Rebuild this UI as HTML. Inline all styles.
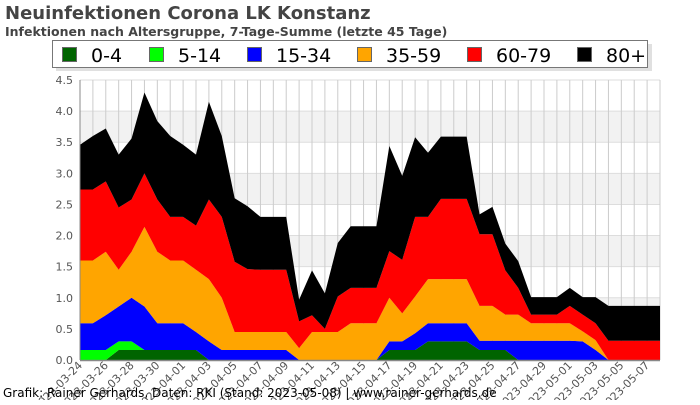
<!DOCTYPE html>
<html><head><meta charset="utf-8"><style>
body{margin:0;background:#fff;}
svg text{font-family:"DejaVu Sans","Liberation Sans",sans-serif;}
</style></head><body>
<svg id="chart" width="700" height="400" xmlns="http://www.w3.org/2000/svg">
<text x="5" y="19" font-size="18" font-weight="bold" fill="#444">Neuinfektionen Corona LK Konstanz</text>
<text x="5" y="36" font-size="12.5" font-weight="bold" fill="#444">Infektionen nach Altersgruppe, 7-Tage-Summe (letzte 45 Tage)</text>
<g id="bands"></g>
<g id="grid"></g>
<g id="areas"></g>
<g id="yaxis"></g>
<g id="xaxis"></g>
<g>
<rect x="56" y="44" width="596" height="27" fill="#ccc" opacity="0.6"/>
<rect x="52.5" y="40.5" width="595" height="27" fill="#fff" stroke="#777"/>
<g id="legend-items"></g>
</g>
<text x="3" y="397" font-size="12" fill="#000">Grafik: Rainer Gerhards, Daten: RKI (Stand: 2023-05-08) | www.rainer-gerhards.de</text>
</svg>
<script>
const days = ["03-24","03-25","03-26","03-27","03-28","03-29","03-30","03-31","04-01","04-02","04-03","04-04","04-05","04-06","04-07","04-08","04-09","04-10","04-11","04-12","04-13","04-14","04-15","04-16","04-17","04-18","04-19","04-20","04-21","04-22","04-23","04-24","04-25","04-26","04-27","04-28","04-29","04-30","05-01","05-02","05-03","05-04","05-05","05-06","05-07","05-08"];
const seriesNames = ["0-4","5-14","15-34","35-59","60-79","80+"];
const seriesColors = ["#006400","#00ff00","#0000ff","#ffa500","#ff0000","#000000"];
const age0_4 = [0,0,0,.16,.16,.16,.16,.16,.16,.16,0,0,0,0,0,0,0,0,0,0,0,0,0,0,.16,.16,.16,.3,.3,.3,.3,.16,.16,.16,0,0,0,0,0,0,0,0,0,0,0,0];
const age5_14 = [.16,.16,.16,.14,.14,0,0,0,0,0,0,0,0,0,0,0,0,0,0,0,0,0,0,0,0,0,0,0,0,0,0,0,0,0,0,0,0,0,0,0,0,0,0,0,0,0];
const age15_34 = [.43,.43,.56,.56,.7,.7,.43,.43,.43,.29,.3,.16,.16,.16,.16,.16,.16,0,0,0,0,0,0,0,.14,.14,.27,.29,.29,.29,.29,.15,.15,.15,.31,.31,.31,.31,.31,.3,.16,0,0,0,0,0];
const age35_59 = [1.01,1.01,1.02,.59,.74,1.28,1.15,1.01,1.01,1.0,1.0,.84,.29,.29,.29,.29,.29,.19,.45,.45,.45,.59,.59,.59,.7,.45,.59,.71,.71,.71,.71,.56,.56,.42,.42,.28,.28,.28,.28,.16,.16,0,0,0,0,0];
const age60_79 = [1.14,1.14,1.13,1.0,.84,.86,.84,.7,.7,.71,1.28,1.3,1.13,1.01,1.0,1.0,1.0,.43,.27,.05,.57,.57,.57,.57,.75,.86,1.28,1.0,1.29,1.29,1.29,1.15,1.15,.71,.43,.14,.14,.14,.28,.27,.27,.31,.31,.31,.31,.31];
const age80 = [.72,.86,.85,.85,.98,1.3,1.26,1.3,1.16,1.14,1.57,1.3,1.02,1.01,.85,.85,.85,.35,.72,.57,.86,.99,.99,.99,1.69,1.35,1.28,1.03,1.0,1.0,1.0,.32,.44,.43,.43,.28,.28,.28,.29,.28,.42,.56,.56,.56,.56,.56];
const yTicks = ["0.0","0.5","1.0","1.5","2.0","2.5","3.0","3.5","4.0","4.5"];
const series = [age0_4,age5_14,age15_34,age35_59,age60_79,age80];

const NS="http://www.w3.org/2000/svg";
const X0=80,X1=660,Y0=360,Y1=80,YMAX=4.5;
const xs=i=>X0+(X1-X0)*i/(days.length-1);
const ys=v=>Y0-(Y0-Y1)*v/YMAX;
function mk(tag,attrs,parent){const e=document.createElementNS(NS,tag);for(const k in attrs)e.setAttribute(k,attrs[k]);parent.appendChild(e);return e;}
const bands=document.getElementById('bands'),grid=document.getElementById('grid'),areas=document.getElementById('areas'),yax=document.getElementById('yaxis'),xax=document.getElementById('xaxis'),leg=document.getElementById('legend-items');
for(let k=0;k<yTicks.length-1;k++){
  if(k%2===1){const r=mk('rect',{x:X0,y:ys(+yTicks[k+1]),width:X1-X0,height:ys(+yTicks[k])-ys(+yTicks[k+1]),fill:'#f2f2f2'},bands);
  
  }
}
yTicks.forEach(t=>{const y=ys(+t);
  const l=mk('line',{x1:X0,x2:X1,y1:y,y2:y,stroke:'#ddd'},grid);
  
  
  const tx=mk('text',{x:73,y:y+4,'font-size':11,fill:'#555','text-anchor':'end'},yax);tx.textContent=t;
  
  
});
days.forEach((d,i)=>{const x=xs(i);
  const l=mk('line',{x1:x,x2:x,y1:Y1,y2:Y0,stroke:'#ccc'},grid);
  
  
  if(i%2===0&&i<days.length-1){const tx=mk('text',{x:x+3,y:366,'font-size':11,fill:'#555','text-anchor':'end',transform:`rotate(-45 ${x+3} 366)`},xax);tx.textContent='2023-'+d;
  
  }
});
let base=days.map(()=>0);
series.forEach((s,k)=>{
  const top=base.map((b,i)=>b+s[i]);
  let pts=top.map((v,i)=>xs(i)+','+ys(v));
  for(let i=days.length-1;i>=0;i--)pts.push(xs(i)+','+ys(base[i]));
  const p=mk('polygon',{points:pts.join(' '),fill:seriesColors[k]},areas);
  
  
  base=top;
});
const ax=mk('line',{x1:X0,x2:X1,y1:Y0+0.5,y2:Y0+0.5,stroke:'#888','stroke-width':1.5},yax);


const ay=mk('line',{x1:X0,x2:X0,y1:Y1,y2:Y0,stroke:'#888'},yax);


const legX=[62,149,247,357,467,577];
seriesNames.forEach((n,k)=>{
  const g=mk('g',{},leg);
  
  
  mk('rect',{x:legX[k]+0.5,y:47.5,width:14,height:14,fill:seriesColors[k],stroke:'#666'},g);
  const t=mk('text',{x:legX[k]+29,y:62,'font-size':19,fill:'#000'},g);t.textContent=n;
});
</script>
</body></html>
